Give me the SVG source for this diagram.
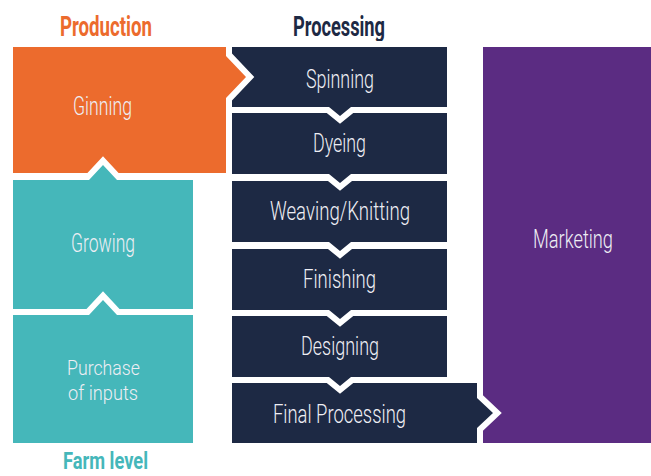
<svg xmlns="http://www.w3.org/2000/svg" width="651" height="476" viewBox="0 0 651 476">
<style>
.shape{stroke:#FFFFFF;stroke-width:12;stroke-linejoin:miter;paint-order:stroke}
.orange{fill:#EC6B2D}
.teal{fill:#45B7BA}
.navy{fill:#1D2944}
.purple{fill:#5B2C82;stroke:none}
.lbl{font-family:Roboto,"Liberation Sans",sans-serif;font-size:25px;font-weight:300;fill:#EEEEF4;text-anchor:start}
.small{font-size:21px}
.head{font-family:Roboto,"Liberation Sans",sans-serif;font-size:28px;font-weight:bold}
</style>
<rect width="651" height="476" fill="#FFFFFF"/>
<text class="head" x="60" y="36" fill="#EC6B2D" textLength="92" lengthAdjust="spacingAndGlyphs">Production</text>
<text class="head" x="293" y="36" fill="#1D2944" textLength="92" lengthAdjust="spacingAndGlyphs">Processing</text>
<text class="head" x="63" y="469" fill="#45B7BA" style="font-size:24px" textLength="85" lengthAdjust="spacingAndGlyphs">Farm level</text>
<g id="marketing">
<rect class="purple" x="483" y="47" width="168" height="396"/>
<text class="lbl" x="533" y="248" textLength="80" lengthAdjust="spacingAndGlyphs">Marketing</text>
</g>
<g id="final-processing">
<polygon class="shape navy" points="232,383 477,383 477,398 493,413 477,428 477,443 232,443"/>
<text class="lbl" x="273" y="423" textLength="133" lengthAdjust="spacingAndGlyphs">Final Processing</text>
</g>
<g id="designing">
<polygon class="shape navy" points="232,316 447,316 447,377 351,377 340,386 329,377 232,377"/>
<text class="lbl" x="301" y="355" textLength="78" lengthAdjust="spacingAndGlyphs">Designing</text>
</g>
<g id="finishing">
<polygon class="shape navy" points="232,249 447,249 447,310 351,310 340,319 329,310 232,310"/>
<text class="lbl" x="303" y="288" textLength="73" lengthAdjust="spacingAndGlyphs">Finishing</text>
</g>
<g id="weaving-knitting">
<polygon class="shape navy" points="232,181 447,181 447,242 351,242 340,251 329,242 232,242"/>
<text class="lbl" x="270" y="220" textLength="140" lengthAdjust="spacingAndGlyphs">Weaving/Knitting</text>
</g>
<g id="dyeing">
<polygon class="shape navy" points="232,113 447,113 447,174 351,174 340,183 329,174 232,174"/>
<text class="lbl" x="313" y="152" textLength="53" lengthAdjust="spacingAndGlyphs">Dyeing</text>
</g>
<g id="spinning">
<polygon class="shape navy" points="232,47 447,47 447,107 351,107 340,116 329,107 232,107"/>
<text class="lbl" x="306" y="88" textLength="68" lengthAdjust="spacingAndGlyphs">Spinning</text>
</g>
<g id="ginning">
<polygon class="shape orange" points="13,47 226,47 226,56 246,77 226,98 226,173 13,173"/>
<text class="lbl" x="73" y="115" textLength="59" lengthAdjust="spacingAndGlyphs">Ginning</text>
</g>
<g id="growing">
<polygon class="shape teal" points="13,180 89,180 103,165 117,180 193,180 193,310 13,310"/>
<text class="lbl" x="71" y="252" textLength="64" lengthAdjust="spacingAndGlyphs">Growing</text>
</g>
<g id="purchase-of-inputs">
<polygon class="shape teal" points="13,315 89,315 103,300 117,315 193,315 193,443 13,443"/>
<text class="lbl small" x="67" y="375" textLength="73" lengthAdjust="spacingAndGlyphs">Purchase</text>
<text class="lbl small" x="68" y="400" textLength="70" lengthAdjust="spacingAndGlyphs">of inputs</text>
</g>
<g id="connectors"></g>
</svg>
